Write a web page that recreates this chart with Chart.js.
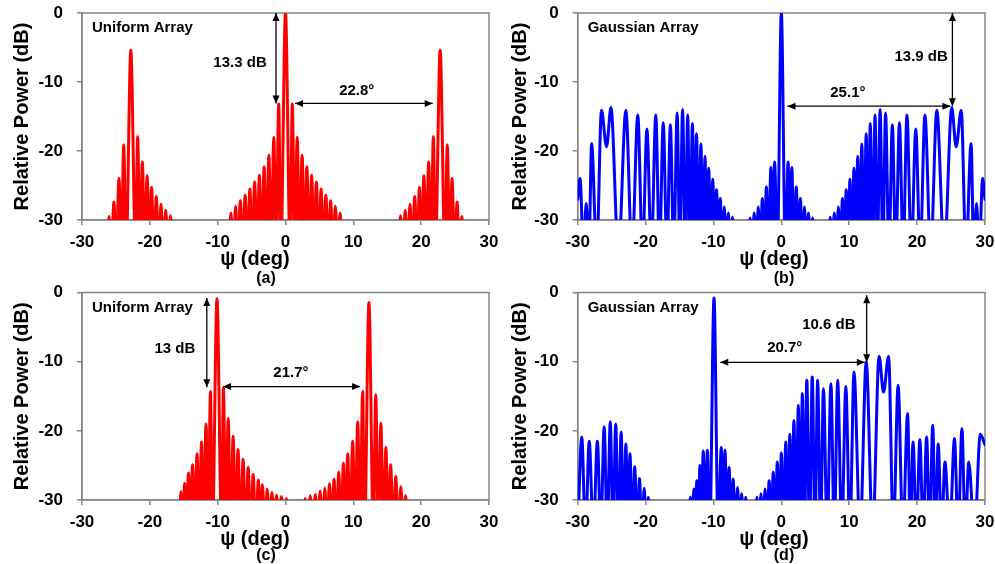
<!DOCTYPE html>
<html>
<head>
<meta charset="utf-8">
<script src="https://cdn.jsdelivr.net/npm/chart.js@4.4.0/dist/chart.umd.min.js"></script>
<style>
  html, body { margin: 0; padding: 0; background: #fff; }
  #wrap { position: relative; width: 995px; height: 564px; overflow: hidden; }
  #wrap canvas { position: absolute; left: 0; top: 0; }
</style>
</head>
<body>
<div id="wrap">
  <canvas id="chartA" width="995" height="564"></canvas>
  <canvas id="chartB" width="995" height="564"></canvas>
  <canvas id="chartC" width="995" height="564"></canvas>
  <canvas id="chartD" width="995" height="564"></canvas>
</div>
<script>
// Lobe peaks and the nulls between them (nulls sit below the -30 dB floor)
// (a) uniform array
const psiA = [
  -30, -26.35, -26.0, -25.65, -25.3, -24.95, -24.55, -24.2, -23.85, -23.5, -22.8, -22.1, -21.8, -21.45,
  -21.1, -20.75, -20.4, -20.05, -19.75, -19.4, -19.05, -18.7, -18.35, -18.0, -17.65, -17.3, -16.95, -16.6,
  -8.4, -8.05, -7.7, -7.35, -7.0, -6.65, -6.3, -5.95, -5.6, -5.25, -4.9, -4.55,
  -4.2, -3.85, -3.5, -3.15, -2.8, -2.45, -2.1, -1.72, -1.38, -1.0, -0.69, 0, 0.69,
  1.0, 1.38, 1.72, 2.1, 2.45, 2.8, 3.15, 3.5, 3.85, 4.2, 4.55, 4.9,
  5.25, 5.6, 5.95, 6.3, 6.65, 7.0, 7.35, 7.7, 8.05, 8.4,
  16.6, 16.95, 17.3, 17.65, 18.0, 18.35, 18.7, 19.05, 19.4, 19.75, 20.05, 20.4, 20.75, 21.1,
  21.45, 21.8, 22.1, 22.8, 23.5, 23.85, 24.2, 24.55, 24.95, 25.3, 25.65, 26.0, 26.35, 30
];
const dbA = [
  -35, -35, -29.5, -35, -27.4, -35, -24.0, -35, -19.1, -35, -5.4, -35, -17.9, -35,
  -21.6, -35, -23.6, -35, -25.3, -35, -26.6, -35, -27.7, -35, -28.6, -35, -29.4, -35,
  -35, -29.0, -35, -28.0, -35, -27.2, -35, -26.4, -35, -25.5, -35, -24.5,
  -35, -23.5, -35, -22.3, -35, -20.6, -35, -18.0, -35, -13.2, -35, 0, -35,
  -13.2, -35, -18.0, -35, -20.6, -35, -22.3, -35, -23.5, -35, -24.5, -35,
  -25.5, -35, -26.4, -35, -27.2, -35, -28.0, -35, -29.0, -35,
  -35, -29.4, -35, -28.6, -35, -27.7, -35, -26.6, -35, -25.3, -35, -23.6, -35, -21.6,
  -35, -17.9, -35, -5.4, -35, -19.1, -35, -24.0, -35, -27.4, -35, -29.5, -35, -35
];

// (b) gaussian array
const psiB = [
  -30, -29.65, -29.15, -28.75, -28.35, -27.95, -27.2, -26.5, -25.75, -25.1,
  -24.0, -22.9, -22.0, -21.15, -20.45, -19.8, -19.15, -18.5, -17.95, -17.4, -16.85, -16.35,
  -15.85, -15.35, -14.95, -14.55, -14.15, -13.8, -13.45, -13.1, -12.8, -12.5, -12.17, -11.85, -11.55, -11.25,
  -10.97, -10.7, -10.4, -10.1, -9.85, -9.55, -9.27, -9.0, -8.7, -8.4, -8.1, -7.8, -7.5, -7.2, -6.9,
  -4.9, -4.6, -4.3, -4.0, -3.7, -3.4, -3.1, -2.8, -2.5, -2.2, -1.85, -1.55, -1.28, -1.0, -0.6,
  0,
  0.6, 1.0, 1.28, 1.55, 1.85, 2.2, 2.5, 2.8, 3.1, 3.4, 3.7, 4.0, 4.3, 4.6, 4.9,
  6.9, 7.2, 7.5, 7.8, 8.1, 8.4, 8.7, 9.0, 9.27, 9.55, 9.85, 10.1, 10.4, 10.7, 10.97,
  11.25, 11.55, 11.85, 12.17, 12.5, 12.8, 13.1, 13.45, 13.8, 14.15, 14.55, 14.95, 15.35, 15.85,
  16.35, 16.85, 17.4, 17.95, 18.5, 19.15, 19.8, 20.45, 21.15, 22.0, 22.9, 24.0,
  25.1, 25.75, 26.5, 27.2, 27.95, 28.35, 28.75, 29.15, 29.65, 30
];
const dbB = [
  -27, -24.0, -35, -27.6, -35, -18.9, -35, -14.1, -19.4, -13.7,
  -35, -14.1, -35, -14.8, -35, -16.8, -35, -14.8, -35, -15.9, -35, -16.2,
  -35, -14.5, -35, -14.0, -35, -14.8, -35, -16.0, -35, -17.5, -35, -19.0, -35, -20.8,
  -35, -22.5, -35, -24.1, -35, -25.6, -35, -26.9, -35, -28.1, -35, -29.0, -35, -29.6, -35,
  -35, -29.7, -35, -29.0, -35, -28.1, -35, -26.9, -35, -25.2, -35, -22.4, -35, -21.6, -35,
  0,
  -35, -21.6, -35, -22.4, -35, -25.2, -35, -26.9, -35, -28.1, -35, -29.0, -35, -29.7, -35,
  -35, -29.6, -35, -29.0, -35, -28.1, -35, -26.9, -35, -25.6, -35, -24.1, -35, -22.5, -35,
  -20.8, -35, -19.0, -35, -17.5, -35, -16.0, -35, -14.8, -35, -14.0, -35, -14.5, -35,
  -16.2, -35, -15.9, -35, -14.8, -35, -16.8, -35, -14.8, -35, -14.1, -35,
  -13.7, -19.4, -14.1, -35, -18.9, -35, -27.6, -35, -24.0, -27
];

// (c) uniform array, two beams
const psiC = [
  -30, -15.7, -15.42, -15.14, -14.86, -14.58, -14.3, -14.0, -13.7, -13.37, -13.04, -12.7, -12.38, -12.05,
  -11.72, -11.4, -11.06, -10.78, -10.1, -9.42, -9.15, -8.8, -8.45, -8.08, -7.72, -7.36, -7.0, -6.62,
  -6.25, -5.88, -5.5, -5.14, -4.77, -4.38, -4.0, -3.7, -3.4, -3.05, -2.7, -2.35, -2.0, -1.66,
  -1.33, -0.96, -0.6, -0.22, 0.15, 0.5,
  2.55, 2.9, 3.28, 3.65, 4.02, 4.4, 4.75, 5.1, 5.45, 5.8, 6.14, 6.48, 6.82, 7.16,
  7.5, 7.85, 8.19, 8.53, 8.85, 9.17, 9.53, 9.9, 10.27, 10.64, 11.0, 11.37, 11.65, 12.3,
  12.95, 13.3, 13.68, 14.06, 14.43, 14.8, 15.15, 15.5, 15.88, 16.26, 16.63, 17.0, 17.35, 17.7, 18.05, 30
];
const dbC = [
  -35, -35, -28.8, -35, -27.6, -35, -26.1, -35, -24.9, -35, -23.3, -35, -21.6, -35,
  -19.0, -35, -14.3, -35, -0.9, -35, -13.8, -35, -18.2, -35, -20.8, -35, -22.7, -35,
  -24.1, -35, -25.3, -35, -26.3, -35, -27.1, -35, -27.8, -35, -28.4, -35, -28.9, -35,
  -29.3, -35, -29.5, -35, -29.8, -35,
  -35, -29.8, -35, -29.4, -35, -29.2, -35, -28.7, -35, -28.3, -35, -27.6, -35, -27.0,
  -35, -26.0, -35, -24.7, -35, -23.3, -35, -21.5, -35, -18.7, -35, -14.3, -35, -1.45,
  -35, -14.8, -35, -18.9, -35, -22.4, -35, -24.9, -35, -26.6, -35, -28.1, -35, -29.4, -35, -35
];

// (d) gaussian array, two beams
const psiD = [
  -30, -29.4, -28.85, -28.3, -27.7, -27.1, -26.6, -26.1, -25.65, -25.2, -24.8, -24.4, -24.0, -23.6,
  -23.25, -22.9, -22.6, -22.3, -21.95, -21.6, -21.25, -20.9, -20.55, -20.2, -19.9, -19.6, -19.3,
  -13.7, -13.4, -13.15, -12.9, -12.7, -12.45, -12.25, -12.0, -11.8, -11.5, -11.2, -10.9, -10.55, -9.92,
  -9.3, -8.85, -8.6, -8.3, -8.0, -7.7, -7.4, -7.1, -6.8, -6.45, -6.15, -5.85, -5.55, -5.25, -4.95,
  -3.9, -3.6, -3.3, -3.0, -2.7, -2.4, -2.1, -1.8, -1.5, -1.2, -0.9, -0.6, -0.3, 0.0,
  0.33, 0.65, 0.95, 1.25, 1.55, 1.85, 2.18, 2.5, 2.8, 3.1, 3.42, 3.75, 4.15, 4.55,
  4.95, 5.35, 5.78, 6.2, 6.75, 7.3, 7.8, 8.3, 8.9, 9.5, 10.1, 10.7, 11.6, 12.5,
  13.45, 14.4, 15.05, 15.8, 16.5, 17.2, 17.9, 18.6, 19.0, 19.4, 19.9, 20.4, 20.9, 21.4,
  21.85, 22.3, 22.7, 23.1, 23.6, 24.1, 24.8, 25.5, 26.05, 26.6, 27.1, 27.6, 28.45, 29.3, 30
];
const dbD = [
  -35, -20.9, -35, -21.5, -35, -21.5, -35, -19.4, -35, -18.7, -35, -19.0, -35, -20.2,
  -35, -21.9, -35, -23.3, -35, -25.2, -35, -26.9, -35, -28.3, -35, -29.6, -35,
  -35, -29.6, -35, -28.4, -35, -27.2, -35, -25.0, -35, -22.9, -35, -22.8, -35, -0.8,
  -35, -22.4, -35, -22.8, -35, -25.3, -35, -27.0, -35, -28.2, -35, -29.1, -35, -29.6, -35,
  -35, -29.6, -35, -29.1, -35, -28.4, -35, -27.2, -35, -26.0, -35, -24.5, -35, -23.2,
  -35, -21.6, -35, -20.5, -35, -18.5, -35, -16.3, -35, -14.6, -35, -12.7, -35, -12.2,
  -35, -12.7, -35, -13.9, -35, -13.2, -35, -12.7, -35, -13.6, -35, -11.5, -35, -10.0,
  -35, -9.2, -14.4, -9.2, -35, -13.4, -35, -17.5, -35, -21.6, -35, -21.3, -35, -20.9,
  -35, -19.2, -35, -21.9, -35, -24.5, -35, -21.1, -35, -19.7, -35, -24.5, -35, -20.5, -22
];

const xTicks = [-30, -20, -10, 0, 10, 20, 30];
const yTicks = [-30, -20, -10, 0];

const FONT = "'Liberation Sans', Arial, sans-serif";
const AXIS_GREY = '#868686';
const Y_W = 82;   // width reserved for the y axis
const X_H = 45;   // height reserved for the x axis

function drawArrow(ctx, x1, y1, x2, y2) {
  const ang = Math.atan2(y2 - y1, x2 - x1), L = 8, W = 3.5;
  ctx.beginPath();
  ctx.moveTo(x1, y1);
  ctx.lineTo(x2, y2);
  ctx.stroke();
  [[x1, y1, ang + Math.PI], [x2, y2, ang]].forEach(([px, py, a]) => {
    ctx.beginPath();
    ctx.moveTo(px, py);
    ctx.lineTo(px - L * Math.cos(a) + W * Math.sin(a), py - L * Math.sin(a) - W * Math.cos(a));
    ctx.lineTo(px - L * Math.cos(a) - W * Math.sin(a), py - L * Math.sin(a) + W * Math.cos(a));
    ctx.closePath();
    ctx.fill();
  });
}

// frame, arrows and labels
const overlay = {
  id: 'overlay',
  beforeDatasetsDraw(chart) {
    const a = chart.chartArea, ctx = chart.ctx;
    ctx.save();
    ctx.strokeStyle = AXIS_GREY;
    ctx.lineWidth = 1.5;
    ctx.strokeRect(a.left, a.top, a.right - a.left, a.bottom - a.top);
    ctx.restore();
  },
  afterDatasetsDraw(chart, args, o) {
    const {ctx, chartArea: a, scales: {x, y}} = chart;
    ctx.save();
    ctx.fillStyle = '#000';
    ctx.strokeStyle = '#000';
    ctx.lineWidth = 1.3;
    o.arrows.forEach(([x1, y1, x2, y2]) =>
      drawArrow(ctx, x.getPixelForValue(x1), y.getPixelForValue(y1), x.getPixelForValue(x2), y.getPixelForValue(y2)));
    ctx.font = 'bold 15px ' + FONT;
    ctx.textAlign = 'center';
    ctx.textBaseline = 'middle';
    o.notes.forEach(([t, px, py]) => ctx.fillText(t, x.getPixelForValue(px), y.getPixelForValue(py)));
    ctx.textAlign = 'left';
    ctx.fillText(o.name, a.left + 10, a.top + 15);
    ctx.textAlign = 'center';
    ctx.font = 'bold 20px ' + FONT;
    ctx.fillText('ψ (deg)', o.titleAt[0], o.titleAt[1]);
    ctx.font = 'bold 16px ' + FONT;
    ctx.fillText(o.caption, o.captionAt[0], o.captionAt[1]);
    ctx.restore();
  }
};

const panels = [
  { id: 'chartA', psi: psiA, db: dbA, color: '#ff0000', box: [82, 13, 489, 220], yPad: 10.5,
    name: 'Uniform Array', caption: '(a)', titleAt: [255, 259], captionAt: [266, 279],
    arrows: [[-1.4, 0, -1.4, -13.1], [1.4, -13.1, 21.7, -13.1]],
    notes: [['13.3 dB', -6.7, -7.25], ['22.8°', 10.5, -11.3]] },
  { id: 'chartB', psi: psiB, db: dbB, color: '#0000ff', box: [577.7, 13, 985, 220], yPad: 12.3,
    name: 'Gaussian Array', caption: '(b)', titleAt: [774, 259], captionAt: [784, 279],
    arrows: [[25.2, 0, 25.2, -13.5], [0.9, -13.5, 24.9, -13.5]],
    notes: [['13.9 dB', 20.6, -6.4], ['25.1°', 9.8, -11.6]] },
  { id: 'chartC', psi: psiC, db: dbC, color: '#ff0000', box: [82, 292.5, 489, 500], yPad: 10.5,
    name: 'Uniform Array', caption: '(c)', titleAt: [255, 539], captionAt: [266, 556],
    arrows: [[-11.6, -0.8, -11.6, -13.7], [-9.2, -13.6, 11.0, -13.6]],
    notes: [['13 dB', -16.3, -8.15], ['21.7°', 0.8, -11.6]] },
  { id: 'chartD', psi: psiD, db: dbD, color: '#0000ff', box: [577.7, 292.5, 985, 500], yPad: 12.3,
    name: 'Gaussian Array', caption: '(d)', titleAt: [774, 539], captionAt: [784, 556],
    arrows: [[12.57, -0.4, 12.57, -10.1], [-9.0, -10.1, 12.3, -10.1]],
    notes: [['10.6 dB', 7.0, -4.7], ['20.7°', 0.5, -8.05]] }
];

function tickFont() {
  return { family: FONT, size: 17, weight: 'bold' };
}

panels.forEach(p => {
  new Chart(document.getElementById(p.id), {
    type: 'line',
    data: {
      datasets: [{
        data: p.psi.map((v, i) => ({ x: v, y: p.db[i] })),
        borderColor: p.color,
        borderWidth: 3,
        pointRadius: 0,
        cubicInterpolationMode: 'monotone',
        borderJoinStyle: 'round',
        borderCapStyle: 'round'
      }]
    },
    options: {
      responsive: false,
      animation: false,
      events: [],
      devicePixelRatio: 1,
      layout: {
        padding: { left: p.box[0] - Y_W, top: p.box[1], right: 995 - p.box[2], bottom: 564 - p.box[3] - X_H }
      },
      scales: {
        x: {
          type: 'linear', min: xTicks[0], max: xTicks[xTicks.length - 1],
          afterBuildTicks: s => { s.ticks = xTicks.map(v => ({ value: v })); },
          ticks: { color: '#000', font: tickFont(), padding: 7, maxRotation: 0 },
          grid: { drawOnChartArea: false, drawTicks: true, tickLength: 5, color: AXIS_GREY, lineWidth: 1.5 },
          border: { display: true, color: AXIS_GREY, width: 1.5 },
          afterFit: s => { s.height = X_H; s.paddingLeft = 0; s.paddingRight = 0; }
        },
        y: {
          type: 'linear', min: yTicks[0], max: yTicks[yTicks.length - 1],
          afterBuildTicks: s => { s.ticks = yTicks.map(v => ({ value: v })); },
          ticks: { color: '#000', font: tickFont(), padding: 14 },
          grid: { drawOnChartArea: false, drawTicks: true, tickLength: 5, color: AXIS_GREY, lineWidth: 1.5 },
          border: { display: true, color: AXIS_GREY, width: 1.5 },
          title: {
            display: true, text: 'Relative Power (dB)', color: '#000',
            font: { family: FONT, size: 20, weight: 'bold' },
            padding: { top: p.yPad, bottom: 0 }
          },
          afterFit: s => { s.width = Y_W; s.paddingTop = 0; s.paddingBottom = 0; }
        }
      },
      plugins: {
        legend: { display: false },
        tooltip: { enabled: false },
        overlay: { name: p.name, caption: p.caption, titleAt: p.titleAt, captionAt: p.captionAt, arrows: p.arrows, notes: p.notes }
      }
    },
    plugins: [overlay]
  });
});
</script>
</body>
</html>
